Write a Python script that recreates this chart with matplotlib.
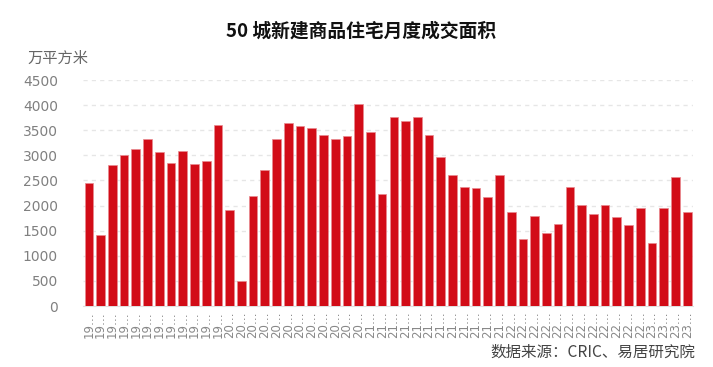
import numpy as np
import matplotlib
matplotlib.use("Agg")
import matplotlib.pyplot as plt

plt.rcParams['font.family'] = ['Noto Sans CJK SC', 'DejaVu Sans']

# monthly transaction area, 50 cities (10k m2), 2019-01 .. 2023-04
years = ['19'] * 12 + ['20'] * 12 + ['21'] * 12 + ['22'] * 12 + ['23'] * 4
months = list(range(1, 13)) * 4 + [1, 2, 3, 4]
values = [2450, 1410, 2815, 3000, 3120, 3320, 3060, 2845, 3080, 2830, 2890, 3610,
          1910, 500, 2185, 2700, 3320, 3650, 3580, 3550, 3400, 3320, 3385, 4015,
          3460, 2225, 3770, 3675, 3755, 3400, 2960, 2610, 2365, 2345, 2170, 2610,
          1880, 1340, 1790, 1445, 1630, 2365, 2008, 1835, 2008, 1775, 1615, 1945,
          1255, 1945, 2565, 1875]
tick_labels = [f"{y}…" for y in years]

fig = plt.figure(figsize=(7.13, 3.67), dpi=100)
ax = fig.add_axes([0.1164, 0.1662, 0.8556, 0.6158])

x = np.arange(len(values))
ax.bar(x, values, width=0.74, color='#d20c17', edgecolor='#e88a90', linewidth=0.5, zorder=3)

ax.set_xlim(-0.5, len(values) - 0.5)
ax.set_ylim(0, 4500)
ax.set_yticks(range(0, 4501, 500))
ax.yaxis.grid(True, color='#e6e6e6', linestyle=(0, (3, 3)), linewidth=1, zorder=0)
ax.set_xticks(x)
ax.set_xticklabels(tick_labels, rotation=90, fontsize=8.5, color='#888888', family='DejaVu Sans')
ax.tick_params(axis='x', length=0, pad=4)
ax.tick_params(axis='y', length=0, labelsize=10, labelcolor='#808080', pad=18)
for lbl in ax.get_yticklabels():
    lbl.set_family('DejaVu Sans')

for s in ['top', 'right', 'left']:
    ax.spines[s].set_visible(False)
ax.spines['bottom'].set_color('#e0e0e0')

fig.text(0.507, 0.915, '50 城新建商品住宅月度成交面积', ha='center', va='center',
         fontsize=13.5, fontweight='bold', color='#111111')
fig.text(0.038, 0.84, '万平方米', ha='left', va='center', fontsize=11, color='#666666')
fig.text(0.975, 0.04, '数据来源：CRIC、易居研究院', ha='right', va='center',
         fontsize=11.2, color='#444444')

fig.savefig('out.png', dpi=100)
